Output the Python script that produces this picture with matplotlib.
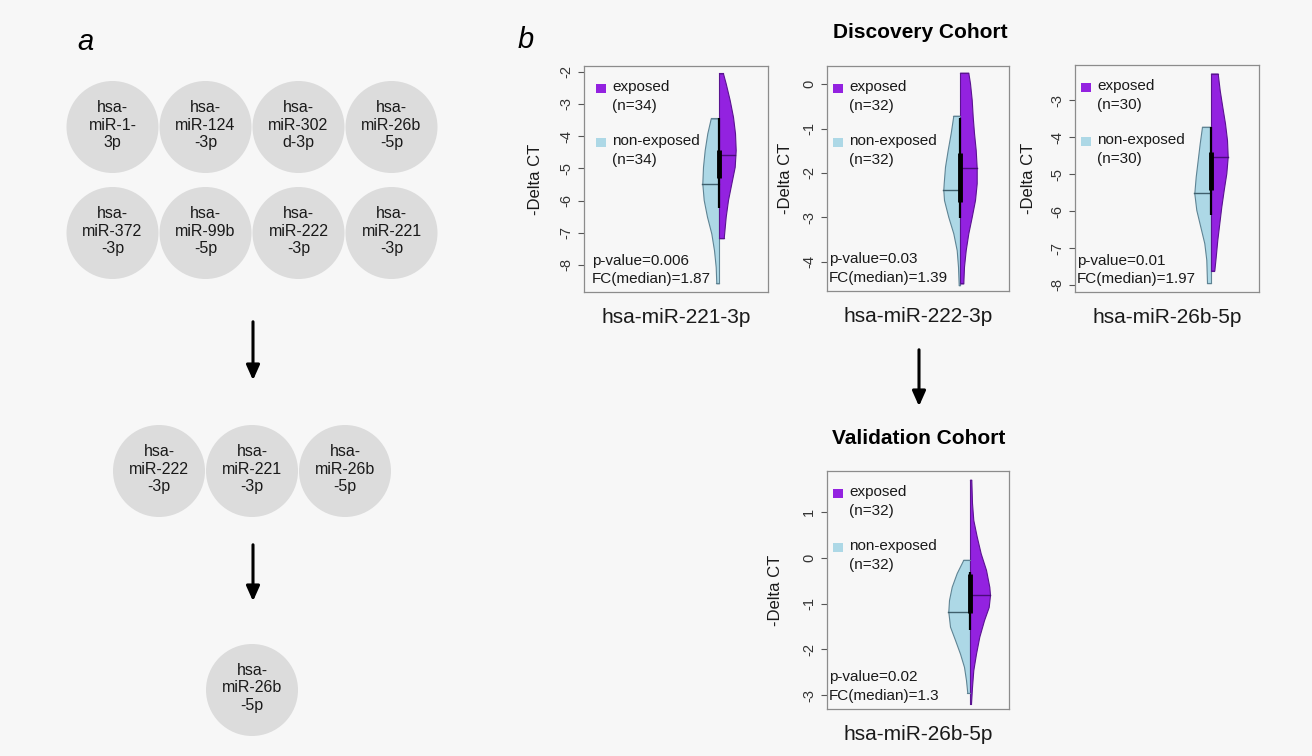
import numpy as np
import matplotlib
matplotlib.use("Agg")
import matplotlib.pyplot as plt
from matplotlib.patches import Circle, Rectangle

plt.rcParams['font.family'] = ['Liberation Sans', 'DejaVu Sans']

# ---- panel a: miRNA selection steps ----
stage_1 = ["hsa-\nmiR-1-\n3p", "hsa-\nmiR-124\n-3p", "hsa-\nmiR-302\nd-3p", "hsa-\nmiR-26b\n-5p",
           "hsa-\nmiR-372\n-3p", "hsa-\nmiR-99b\n-5p", "hsa-\nmiR-222\n-3p", "hsa-\nmiR-221\n-3p"]
stage_2 = ["hsa-\nmiR-222\n-3p", "hsa-\nmiR-221\n-3p", "hsa-\nmiR-26b\n-5p"]
stage_3 = ["hsa-\nmiR-26b\n-5p"]

# ---- panel b: split violins (value levels and half widths) ----
genes = ["hsa-miR-221-3p", "hsa-miR-222-3p", "hsa-miR-26b-5p", "hsa-miR-26b-5p"]
n_exposed = [34, 32, 30, 32]
n_nonexposed = [34, 32, 30, 32]
p_values = ["0.006", "0.03", "0.01", "0.02"]
fc_median = ["1.87", "1.39", "1.97", "1.3"]

y221_non = [-3.45, -3.91, -4.43, -4.95, -5.47, -5.98, -6.50, -7.02, -7.54, -8.06, -8.57]
w221_non = [8.3, 11.7, 14.3, 16.0, 16.7, 15.3, 12.0, 7.7, 5.0, 3.3, 2.7]
y221_exp = [-2.05, -2.36, -2.88, -3.40, -3.91, -4.43, -4.95, -5.47, -5.98, -6.50, -7.17]
w221_exp = [4.0, 6.7, 10.7, 14.0, 16.0, 16.7, 15.7, 12.3, 9.0, 6.7, 4.7]

y222_non = [-0.71, -1.10, -1.48, -1.86, -2.23, -2.38, -2.61, -2.99, -3.36, -3.74, -4.11, -4.53]
w222_non = [6.7, 9.3, 12.3, 15.0, 16.3, 16.7, 16.0, 11.7, 6.7, 3.3, 2.0, 1.3]
y222_exp = [0.26, 0.02, -0.35, -0.73, -1.10, -1.48, -1.89, -2.23, -2.61, -2.99, -3.36, -3.74, -4.11, -4.49]
w222_exp = [8.3, 10.0, 11.7, 12.7, 14.0, 15.7, 16.7, 16.7, 15.0, 11.7, 8.3, 5.7, 4.0, 3.3]

y26b_non = [-3.72, -4.17, -4.62, -5.07, -5.52, -5.97, -6.42, -6.87, -7.32, -7.95]
w26b_non = [9.0, 11.3, 13.3, 15.3, 16.7, 14.7, 10.7, 6.7, 4.7, 4.0]
y26b_exp = [-2.28, -2.73, -3.18, -3.63, -4.08, -4.53, -4.98, -5.43, -5.88, -6.33, -6.78, -7.24, -7.61]
w26b_exp = [6.7, 8.7, 11.3, 14.0, 16.0, 16.7, 15.3, 12.7, 10.3, 8.3, 6.3, 4.7, 3.3]

yval_non = [-0.04, -0.33, -0.63, -0.92, -1.17, -1.50, -1.79, -2.09, -2.38, -2.67, -2.95]
wval_non = [6.7, 13.3, 18.3, 21.0, 21.7, 20.0, 15.0, 10.0, 6.0, 4.0, 2.7]
yval_exp = [1.71, 1.20, 0.83, 0.47, 0.10, -0.26, -0.63, -0.81, -1.07, -1.36, -1.72, -2.09, -2.45, -2.82, -3.18]
wval_exp = [1.3, 2.0, 3.3, 6.7, 10.7, 16.0, 19.3, 20.0, 18.7, 14.0, 9.3, 6.0, 3.3, 2.0, 1.0]

median_non = [-5.47, -2.38, -5.50, -1.19]
median_exp = [-4.59, -1.89, -4.53, -0.81]
whisker_hi = [-3.45, -0.77, -3.72, -0.30]
whisker_lo = [-6.24, -3.02, -6.11, -1.58]
box_hi = [-4.43, -1.56, -4.40, -0.35]
box_lo = [-5.31, -2.65, -5.43, -1.20]

yticks = [[-2, -3, -4, -5, -6, -7, -8], [0, -1, -2, -3, -4],
          [-3, -4, -5, -6, -7, -8], [1, 0, -1, -2, -3]]
ylims = [(-8.84, -1.82), (-4.66, 0.41), (-8.19, -2.05), (-3.30, 1.90)]

profiles = [(y221_non, w221_non, y221_exp, w221_exp),
            (y222_non, w222_non, y222_exp, w222_exp),
            (y26b_non, w26b_non, y26b_exp, w26b_exp),
            (yval_non, wval_non, yval_exp, wval_exp)]

BG = '#f7f7f7'
PURPLE = '#9322e0'
LIGHTBLUE = '#add8e6'
W, H = 1312, 756

fig = plt.figure(figsize=(W / 100, H / 100), dpi=100, facecolor=BG)

# background axes in pixel coordinates for panel a, headings and arrows
bg = fig.add_axes([0, 0, 1, 1])
bg.set_xlim(0, W)
bg.set_ylim(H, 0)
bg.axis('off')
bg.set_facecolor(BG)

bg.text(85, 42, "a", fontsize=21, style='italic', ha='center', va='center')
bg.text(526, 40, "b", fontsize=21, style='italic', ha='center', va='center')

radius = 46
step = 93
cx_mid = 252


def draw_row(labels, cy):
    n = len(labels)
    for i, lab in enumerate(labels):
        cx = cx_mid + (i - (n - 1) / 2) * step
        bg.add_patch(Circle((cx, cy), radius, facecolor='#dcdcdc', edgecolor='none'))
        bg.text(cx, cy - 2, lab, ha='center', va='center', fontsize=11.5,
                linespacing=1.18, color='#1a1a1a')


draw_row(stage_1[:4], 127)
draw_row(stage_1[4:], 233)
draw_row(stage_2, 471)
draw_row(stage_3, 690)

arrow_kw = dict(arrowstyle='-|>,head_length=0.9,head_width=0.4', color='black', lw=2.2)
bg.annotate("", xy=(253, 383), xytext=(253, 319), arrowprops=arrow_kw)
bg.annotate("", xy=(253, 604), xytext=(253, 542), arrowprops=arrow_kw)
bg.annotate("", xy=(919, 409), xytext=(919, 347), arrowprops=arrow_kw)

bg.text(920, 33, "Discovery Cohort", fontsize=15, fontweight='bold', ha='center', va='center')
bg.text(919, 438, "Validation Cohort", fontsize=15, fontweight='bold', ha='center', va='center')

# violin panel boxes in pixels: left, right, top, bottom, violin centre x
boxes = [(584, 768, 66, 292, 719), (827, 1009, 66, 291, 960),
         (1075, 1259, 65, 292, 1211), (827, 1009, 471, 709, 970)]
legend_dx = [12, 6, 6, 6]
ylabel_dx = [41, 34, 39, 44]

for k in range(4):
    l, r, t, b, c = boxes[k]
    ax = fig.add_axes([l / W, 1 - b / H, (r - l) / W, (b - t) / H])
    ax.set_facecolor(BG)
    ax.set_xlim(l - c, r - c)
    ax.set_ylim(*ylims[k])
    for s in ax.spines.values():
        s.set_color('#8c8c8c')
        s.set_linewidth(0.9)
    ax.set_xticks([])
    ax.set_yticks(yticks[k])
    ax.set_yticklabels([str(v) for v in yticks[k]])
    ax.tick_params(axis='y', labelrotation=90, labelsize=10.5, length=4, pad=4,
                   color='#555555', labelcolor='#333333')
    for lab in ax.get_yticklabels():
        lab.set_va('center')

    yn, wn, ye, we = profiles[k]
    yn, wn, ye, we = map(np.asarray, (yn, wn, ye, we))
    ax.fill_betweenx(yn, -wn, 0, facecolor=LIGHTBLUE, edgecolor='#5f8494', lw=0.8, zorder=2)
    ax.fill_betweenx(ye, 0, we, facecolor=PURPLE, edgecolor='#5a1490', lw=0.8, zorder=2)
    # close the flat ends
    ax.plot([-wn[0], 0], [yn[0], yn[0]], color='#5f8494', lw=0.8, zorder=2)
    ax.plot([-wn[-1], 0], [yn[-1], yn[-1]], color='#5f8494', lw=0.8, zorder=2)
    ax.plot([0, we[0]], [ye[0], ye[0]], color='#5a1490', lw=0.8, zorder=2)
    ax.plot([0, we[-1]], [ye[-1], ye[-1]], color='#5a1490', lw=0.8, zorder=2)

    # medians
    mn = np.interp(median_non[k], yn[::-1], wn[::-1])
    me = np.interp(median_exp[k], ye[::-1], we[::-1])
    ax.plot([-mn, 0], [median_non[k]] * 2, color='#3f5f6c', lw=1.0, zorder=3)
    ax.plot([0, me], [median_exp[k]] * 2, color='#4a0c7a', lw=1.0, zorder=3)

    # box
    ax.plot([0, 0], [whisker_lo[k], whisker_hi[k]], color='black', lw=1.6, zorder=4,
            solid_capstyle='butt')
    ax.plot([0, 0], [box_lo[k], box_hi[k]], color='black', lw=3.5, zorder=4,
            solid_capstyle='butt')

    # legend
    bw, bh = r - l, b - t
    dx = legend_dx[k]
    ax.add_patch(Rectangle((dx / bw, 1 - 27 / bh), 10 / bw, 9 / bh, transform=ax.transAxes,
                           facecolor=PURPLE, edgecolor='none', zorder=5))
    ax.add_patch(Rectangle((dx / bw, 1 - 81 / bh), 10 / bw, 9 / bh, transform=ax.transAxes,
                           facecolor=LIGHTBLUE, edgecolor='none', zorder=5))
    tx = (dx + 16) / bw
    txt_kw = dict(transform=ax.transAxes, fontsize=11, va='center', ha='left', color='#1a1a1a')
    ax.text(tx, 1 - 21 / bh, "exposed", **txt_kw)
    ax.text(tx, 1 - 40 / bh, "(n=%d)" % n_exposed[k], **txt_kw)
    ax.text(tx, 1 - 75 / bh, "non-exposed", **txt_kw)
    ax.text(tx, 1 - 94 / bh, "(n=%d)" % n_nonexposed[k], **txt_kw)
    ax.text((dx - 4) / bw, 31.5 / bh, "p-value=" + p_values[k], **txt_kw)
    ax.text((dx - 4) / bw, 13 / bh, "FC(median)=" + fc_median[k], **txt_kw)

    ax.set_ylabel("-Delta CT", fontsize=12, color='#1a1a1a')
    ax.yaxis.set_label_coords(-ylabel_dx[k] / bw, 0.5)
    ax.text(0.5, -16 / bh, genes[k], transform=ax.transAxes, fontsize=15,
            ha='center', va='top', color='#1a1a1a')

fig.savefig("out.png", dpi=100, facecolor=BG)
